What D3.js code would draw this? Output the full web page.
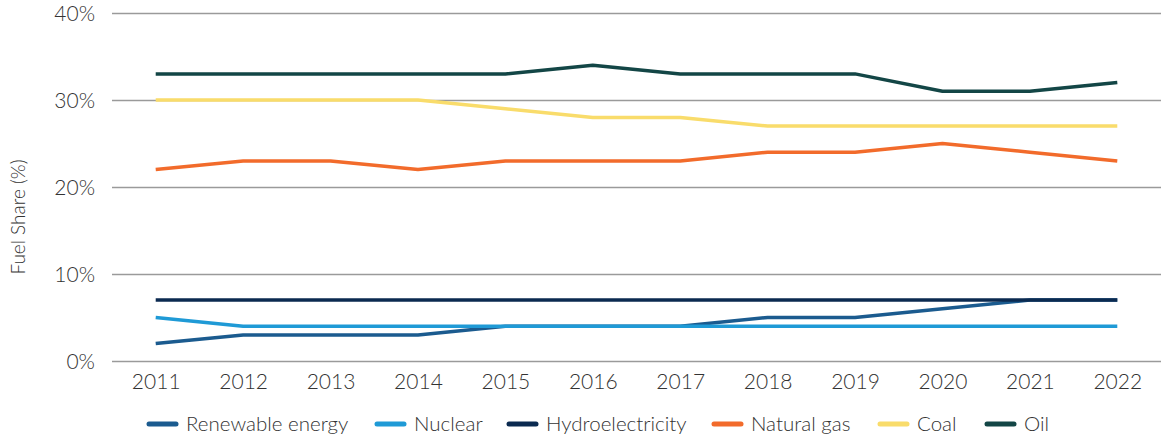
<!DOCTYPE html>
<html>
<head>
    <script src="https://d3js.org/d3.v7.min.js"></script>
    <style>
        body { margin: 0; background: #fff; }
        svg text { font-family: Lato, "Open Sans", sans-serif; font-weight: 300; fill: #333; }
    </style>
</head>
<body>
    <svg width="1170" height="437"></svg>
    <script>
        const years = ["2011","2012","2013","2014","2015","2016","2017","2018","2019","2020","2021","2022"]
        const seriesNames = ["Renewable energy","Nuclear","Hydroelectricity","Natural gas","Coal","Oil"]
        const seriesColors = ["#1b5b8f","#1f9ad6","#0b2a50","#f26b2b","#f9dc6b","#134646"]
        const renewable = [2,3,3,3,4,4,4,5,5,6,7,7]
        const nuclear = [5,4,4,4,4,4,4,4,4,4,4,4]
        const hydro = [7,7,7,7,7,7,7,7,7,7,7,7]
        const naturalGas = [22,23,23,22,23,23,23,24,24,25,24,23]
        const coal = [30,30,30,30,29,28,28,27,27,27,27,27]
        const oil = [33,33,33,33,33,34,33,33,33,31,31,32]
        const yTicks = [0,10,20,30,40]

        const allSeries = [renewable, nuclear, hydro, naturalGas, coal, oil]

        const plotLeft = 112, plotRight = 1161, plotTop = 13, plotBottom = 361
        const legendX = [147, 375, 507, 712, 878, 985]

        const svg = d3.select("svg")

        const x = d3.scalePoint().domain(years).range([plotLeft, plotRight]).padding(0.5)
        const y = d3.scaleLinear().domain([0, 40]).range([plotBottom, plotTop])

        // gridlines + y labels
        const yAxis = svg.append("g")
            .attr("transform", "translate(" + plotLeft + ",0)")
            .call(d3.axisLeft(y).tickValues(yTicks).tickSize(-(plotRight - plotLeft)).tickFormat(d => d + "%"))
        yAxis.select(".domain").remove()
        yAxis.selectAll("line").attr("stroke", "#9a9a9a").attr("stroke-width", 1.5)
        yAxis.selectAll("text").attr("x", -17).attr("font-size", 21).attr("dy", "0.34em")

        // x labels
        const xAxis = svg.append("g")
            .attr("transform", "translate(0," + plotBottom + ")")
            .call(d3.axisBottom(x).tickSize(0))
        xAxis.select(".domain").remove()
        xAxis.selectAll("text").attr("y", 13).attr("font-size", 21).attr("dy", "0.71em")

        svg.append("text")
            .attr("transform", "translate(25,217) rotate(-90)")
            .attr("text-anchor", "middle")
            .attr("font-size", 19)
            .text("Fuel Share (%)")

        const line = d3.line().x((d, i) => x(years[i])).y(d => y(d))

        // draw from top series down so lower ones sit on top like reference
        const order = [5, 4, 3, 0, 1, 2]
        order.forEach(k => {
            svg.append("path")
                .datum(allSeries[k])
                .attr("fill", "none")
                .attr("stroke", seriesColors[k])
                .attr("stroke-width", 3.5)
                .attr("stroke-linejoin", "round")
                .attr("d", line)
        })

        // legend
        const legend = svg.append("g").attr("transform", "translate(0,424)")
        seriesNames.forEach((name, k) => {
            const g = legend.append("g").attr("transform", "translate(" + legendX[k] + ",0)")
            g.append("line")
                .attr("x1", 2).attr("x2", 29)
                .attr("stroke", seriesColors[k])
                .attr("stroke-width", 5)
                .attr("stroke-linecap", "round")
            g.append("text")
                .attr("x", 39)
                .attr("dy", "0.35em")
                .attr("font-size", 20.5)
                .text(name)
        })
    </script>
</body>
</html>
